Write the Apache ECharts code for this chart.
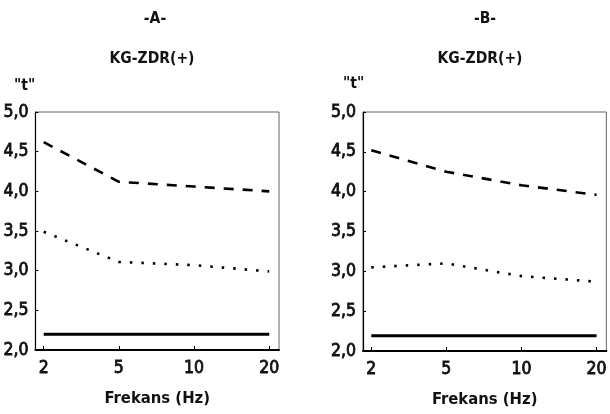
<!DOCTYPE html>
<html>
<head>
<meta charset="utf-8">
<script src="https://cdn.jsdelivr.net/npm/echarts@6/dist/echarts.min.js"></script>
<style>
  html, body { margin: 0; padding: 0; background: #fff; }
  #chart { width: 610px; height: 414px; }
</style>
</head>
<body>
<div id="chart"></div>
<script>
    // frekans kategorileri (eşit aralıklı)
    var freqLabels = ['2', '5', '10', '20'];

    // panel A
    var aDashed = [4.62, 4.12, 4.06, 4.0];
    var aDotted = [3.49, 3.11, 3.07, 2.99];
    var aSolid = [2.2, 2.2, 2.2, 2.2];

    // panel B
    var bDashed = [4.52, 4.25, 4.08, 3.96];
    var bDotted = [3.05, 3.10, 2.94, 2.87];
    var bSolid = [2.19, 2.19, 2.19, 2.19];

    var font = '"DejaVu Sans Condensed", "Liberation Sans", sans-serif';

    function pts(arr) {
        return arr.map(function (v, i) { return [i, v]; });
    }

    var tickText = {
        fontFamily: font, fontSize: 17.5, color: '#111',
        textBorderColor: '#111', textBorderWidth: 0.8
    };

    function xAxisFor(idx) {
        return {
            type: 'value',
            gridIndex: idx,
            min: -0.11,
            max: 3.13,
            name: 'Frekans (Hz)',
            nameLocation: 'middle',
            nameGap: 40,
            nameTextStyle: { fontFamily: font, fontSize: 16.5, fontWeight: 'bold', color: '#111' },
            axisLine: { onZero: false, lineStyle: { color: '#000', width: 2 } },
            axisTick: { inside: true, length: 4, customValues: [0, 1, 2, 3], lineStyle: { color: '#000' } },
            axisLabel: Object.assign({
                customValues: [0, 1, 2, 3],
                margin: 9,
                formatter: function (v) { return freqLabels[Math.round(v)]; }
            }, tickText),
            splitLine: { show: false }
        };
    }

    function yAxisFor(idx) {
        return {
            type: 'value',
            gridIndex: idx,
            min: 2,
            max: 5,
            interval: 0.5,
            axisLine: { show: true, onZero: false, lineStyle: { color: '#000', width: 1.2 } },
            axisTick: { show: true, inside: true, length: 3, lineStyle: { color: '#000' } },
            axisLabel: Object.assign({
                margin: 7,
                formatter: function (v) { return v.toFixed(1).replace('.', ','); }
            }, tickText),
            splitLine: { show: false }
        };
    }

    function lines(idx, dashed, dotted, solid) {
        return [
            {
                type: 'line', xAxisIndex: idx, yAxisIndex: idx, data: pts(dashed),
                symbol: 'none', lineStyle: { color: '#000', width: 2.6, type: [10, 9] }
            },
            {
                type: 'line', xAxisIndex: idx, yAxisIndex: idx, data: pts(dotted),
                symbol: 'none', lineStyle: { color: '#000', width: 2.6, type: [2.5, 9] }
            },
            {
                type: 'line', xAxisIndex: idx, yAxisIndex: idx, data: pts(solid),
                symbol: 'none', lineStyle: { color: '#000', width: 3 }
            }
        ];
    }

    var txt = { fontFamily: font, fontSize: 15.5, fontWeight: 'bold', color: '#111' };

    var chart = echarts.init(document.getElementById('chart'));
    var option = {
        backgroundColor: '#fff',
        animation: false,
        title: [
            { text: '-A-', left: 150, top: 6, textAlign: 'center', textStyle: txt },
            { text: 'KG-ZDR(+)', left: 147, top: 46, textAlign: 'center', textStyle: txt },
            { text: '"t"', left: 9, top: 73, textStyle: txt },
            { text: '-B-', left: 480, top: 6, textAlign: 'center', textStyle: txt },
            { text: 'KG-ZDR(+)', left: 475, top: 46, textAlign: 'center', textStyle: txt },
            { text: '"t"', left: 338, top: 71, textStyle: txt }
        ],
        grid: [
            { left: 32, right: 331, top: 112, bottom: 64, show: true, borderColor: '#666', borderWidth: 1 },
            { left: 363, right: 1, top: 112, bottom: 63, show: true, borderColor: '#666', borderWidth: 1 }
        ],
        xAxis: [xAxisFor(0), xAxisFor(1)],
        yAxis: [yAxisFor(0), yAxisFor(1)],
        series: lines(0, aDashed, aDotted, aSolid).concat(lines(1, bDashed, bDotted, bSolid))
    };
    chart.setOption(option);
</script>
</body>
</html>
